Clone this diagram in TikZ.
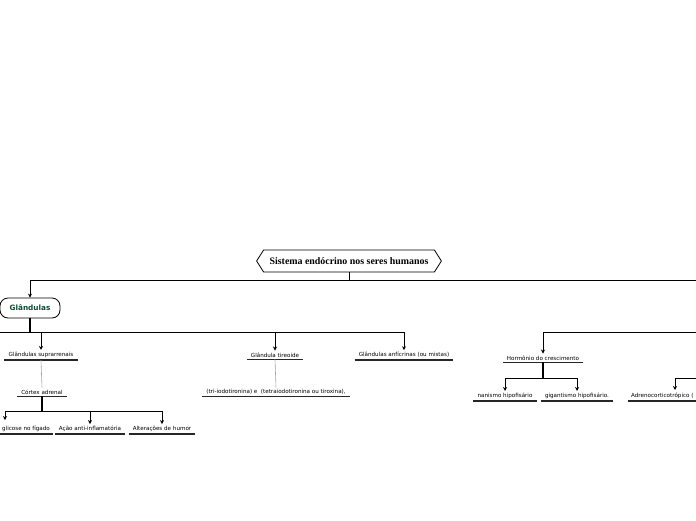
\documentclass[tikz,border=0pt]{standalone}
\usepackage{fontspec}
\setmainfont{Liberation Serif}
\newfontfamily\dvs{DejaVu Sans}
\usetikzlibrary{arrows.meta,shapes.symbols}
\definecolor{gtext}{HTML}{0E4A30}
\begin{document}
\begin{tikzpicture}[x=1pt,y=-1pt,
  conn/.style={line width=0.9pt,-{Stealth[length=4pt,width=4pt]}},
  plain/.style={line width=0.9pt},
  thickl/.style={line width=1.6pt},
  grayl/.style={line width=0.6pt,draw=black!35},
  uline/.style={line width=1.4pt,draw=black!85},
  leaf/.style={font=\dvs\fontsize{5.6}{6.5}\selectfont,inner xsep=4pt,inner ysep=2pt},
  mainbox/.style={shape=signal,signal to=west and east,signal pointer angle=115,draw,line width=0.8pt,
    font=\bfseries\fontsize{9.9}{11}\selectfont,minimum height=22pt,inner xsep=6pt},
  glbox/.style={draw,line width=0.8pt,rounded corners=8pt,minimum width=60pt,minimum height=20pt,
    font=\dvs\bfseries\fontsize{7.3}{8}\selectfont,text=gtext}]
\useasboundingbox (0,0) rectangle (696,520);
\clip (0,0) rectangle (696,520);

\node[mainbox] (main) at (349,261) {Sistema endócrino nos seres humanos};
\node[glbox] (gl) at (30,308) {Glândulas};

\node[leaf] (sup) at (41,355) {Glândulas suprarrenais};
\node[leaf] (cor) at (42,392) {Córtex adrenal};
\node[leaf,anchor=east,inner xsep=3pt] (gli) at (53,429) {glicose no fígado};
\node[leaf] (aca) at (90,429) {Ação anti-inflamatória};
\node[leaf] (alt) at (162,429) {Alterações de humor};
\node[leaf] (tir) at (275,355) {Glândula tireoide};
\node[leaf] (tri) at (276,392) {(tri-iodotironina) e\ \ (tetraiodotironina ou tiroxina),};
\node[leaf] (anf) at (404,355) {Glândulas anfícrinas (ou mistas)};
\node[leaf] (hc) at (543,358) {Hormônio do crescimento};
\node[leaf] (nan) at (505,396) {nanismo hipofisário};
\node[leaf] (gig) at (577,396) {gigantismo hipofisário.};
\node[leaf,anchor=west,inner xsep=3pt] (adr) at (628,396) {Adrenocorticotrópico (};

\foreach \n in {sup,cor,gli,aca,alt,tir,tri,anf,hc,nan,gig,adr}
  \draw[uline] (\n.south west) -- (\n.south east);

% top level
\coordinate (mb) at (349,280);
\coordinate (rtop) at (700,280);
\draw[plain] (main.south) -- (mb) -- (rtop);
\draw[conn] (mb) -| (gl.north);

% glandulas branch
\coordinate (gb) at (30,332);
\coordinate (lft) at (-5,332);
\draw[thickl] (gl.south) -- (gb);
\draw[plain] (gb) -- (lft);
\draw[conn] (gb) -| (sup.north);
\draw[conn] (gb) -| (tir.north);
\draw[conn] (gb) -| (anf.north);

\draw[grayl] (sup.south) -- (cor.north);
\draw[grayl] (tir.south) -- (tri.north);

\coordinate (cb) at (42,411);
\coordinate (glit) at (5,420);
\draw[thickl] (cor.south) -- (cb);
\draw[conn] (cb) -| (glit);
\draw[conn] (cb) -| (aca.north);
\draw[conn] (cb) -| (alt.north);

% right side
\coordinate (rmid) at (700,332);
\draw[conn] (rmid) -| (hc.north);
\coordinate (hb) at (543,378);
\draw[thickl] (hc.south) -- (hb);
\draw[conn] (hb) -| (nan.north);
\draw[conn] (hb) -| (gig.north);
\coordinate (rlow) at (700,378);
\coordinate (adrt) at (675,390);
\draw[conn] (rlow) -| (adrt);
\end{tikzpicture}
\end{document}
